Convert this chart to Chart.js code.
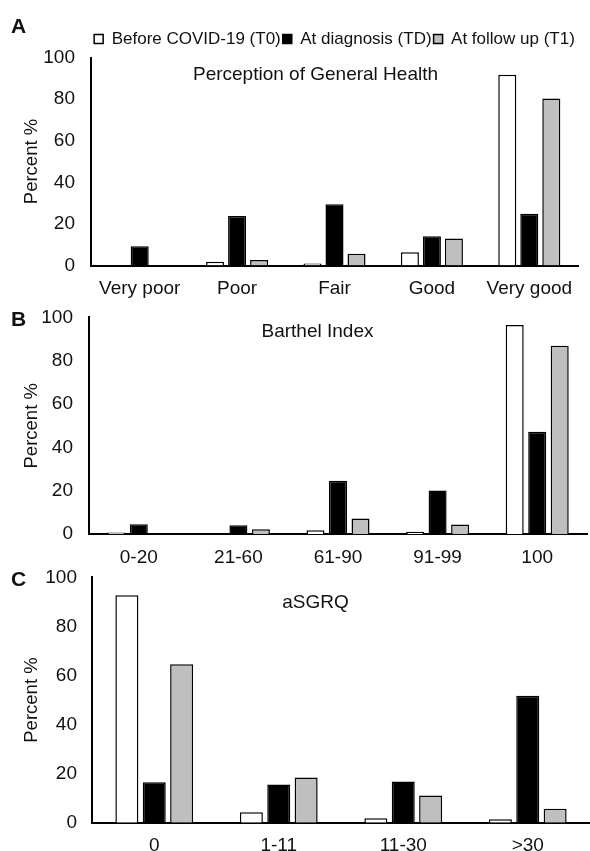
<!DOCTYPE html>
<html>
<head>
    <title>Perception of health, Barthel Index and aSGRQ</title>
    <script src="https://cdn.jsdelivr.net/npm/chart.js@4.4.0/dist/chart.umd.min.js"></script>
    <style>
        body {
            margin: 0;
            background: white;
            font-family: 'Liberation Sans', Arial, sans-serif;
        }
        .page {
            position: relative;
            width: 590px;
            height: 851px;
            overflow: hidden;
        }
        .panel {
            position: absolute;
            left: 0;
            width: 590px;
        }
        .letter {
            position: absolute;
            left: 11px;
            font-size: 21px;
            font-weight: bold;
            color: #111;
            line-height: 21px;
        }
    </style>
</head>
<body>
    <div class="page">
        <div class="panel" style="top:0;height:300px"><canvas id="chartA"></canvas></div>
        <div class="panel" style="top:290px;height:280px"><canvas id="chartB"></canvas></div>
        <div class="panel" style="top:551px;height:300px"><canvas id="chartC"></canvas></div>
        <div class="letter" style="top:15px">A</div>
        <div class="letter" style="top:308px">B</div>
        <div class="letter" style="top:568px">C</div>
    </div>

    <script>
        // series names
        const seriesNames = ['Before COVID-19 (T0)', 'At diagnosis (TD)', 'At follow up (T1)'];

        // A - Perception of General Health
        const healthLabels = ['Very poor', 'Poor', 'Fair', 'Good', 'Very good'];
        const healthT0 = [0, 1.8, 1.0, 6.4, 91.7];
        const healthTD = [9.3, 23.8, 29.4, 14.1, 24.9];
        const healthT1 = [0, 2.6, 5.6, 13.0, 80.3];

        // B - Barthel Index
        const barthelLabels = ['0-20', '21-60', '61-90', '91-99', '100'];
        const barthelT0 = [0.8, 0, 1.8, 1.1, 96.5];
        const barthelTD = [4.6, 4.1, 24.6, 20.1, 47.3];
        const barthelT1 = [0, 2.3, 7.2, 4.5, 86.9];

        // C - aSGRQ
        const sgrqLabels = ['0', '1-11', '11-30', '>30'];
        const sgrqT0 = [92.7, 4.3, 1.8, 1.4];
        const sgrqTD = [16.5, 15.6, 16.8, 51.8];
        const sgrqT1 = [64.6, 18.4, 11.1, 5.7];

        const yTicks = [0, 20, 40, 60, 80, 100];

        const fillColors = ['#ffffff', '#000000', '#bfbfbf'];
        const textColor = '#111';
        const fontFamily = "'Liberation Sans', Arial, sans-serif";

        // draws the small title inside the plot area
        const panelTitle = {
            id: 'panelTitle',
            afterDraw(chart, args, opts) {
                const ctx = chart.ctx;
                ctx.save();
                ctx.font = '19px ' + fontFamily;
                ctx.fillStyle = textColor;
                ctx.textAlign = 'center';
                ctx.textBaseline = 'middle';
                ctx.fillText(opts.text, opts.x, opts.y);
                ctx.restore();
            }
        };

        function makeChart(id, cfg) {
            const datasets = [cfg.t0, cfg.td, cfg.t1].map((vals, i) => ({
                label: seriesNames[i],
                data: vals,
                backgroundColor: fillColors[i],
                borderColor: '#000',
                borderWidth: 1.5,
                categoryPercentage: cfg.catPct,
                barPercentage: cfg.barPct
            }));

            return new Chart(document.getElementById(id), {
                type: 'bar',
                data: { labels: cfg.labels, datasets: datasets },
                plugins: [panelTitle],
                options: {
                    responsive: true,
                    maintainAspectRatio: false,
                    animation: false,
                    layout: {
                        padding: { top: cfg.padTop, right: cfg.padRight, left: 0, bottom: 0 }
                    },
                    plugins: {
                        tooltip: { enabled: false },
                        legend: {
                            display: cfg.legend,
                            position: 'top',
                            fullSize: false,
                            labels: {
                                boxWidth: 9,
                                boxHeight: 9,
                                padding: 2,
                                color: textColor,
                                font: { family: fontFamily, size: 17 }
                            }
                        },
                        panelTitle: cfg.title
                    },
                    scales: {
                        x: {
                            grid: { display: false, drawTicks: false },
                            border: { display: true, color: '#000', width: 2 },
                            ticks: {
                                color: textColor,
                                font: { family: fontFamily, size: 19 },
                                padding: 12,
                                maxRotation: 0,
                                autoSkip: false
                            },
                            afterFit: (s) => { s.height = cfg.xHeight; }
                        },
                        y: {
                            min: 0,
                            max: 100,
                            afterBuildTicks: (s) => { s.ticks = yTicks.map(v => ({ value: v })); },
                            grid: { display: false, drawTicks: false },
                            border: { display: true, color: '#000', width: 2 },
                            ticks: {
                                color: textColor,
                                font: { family: fontFamily, size: 19 },
                                padding: cfg.yPad
                            },
                            title: {
                                display: true,
                                text: 'Percent %',
                                color: textColor,
                                font: { family: fontFamily, size: 18.5 },
                                padding: { top: 21, bottom: 0 }
                            },
                            afterFit: (s) => { s.width = cfg.yWidth; }
                        }
                    }
                }
            });
        }

        makeChart('chartA', {
            labels: healthLabels, t0: healthT0, td: healthTD, t1: healthT1,
            legend: true, padTop: 28.5, padRight: 12, xHeight: 34.5, yWidth: 91, yPad: 16,
            catPct: 0.678, barPct: 0.82,
            title: { text: 'Perception of General Health', x: 315.5, y: 75 }
        });

        makeChart('chartB', {
            labels: barthelLabels, t0: barthelT0, td: barthelTD, t1: barthelT1,
            legend: false, padTop: 0, padRight: 3, xHeight: 35.8, yWidth: 89, yPad: 16,
            catPct: 0.678, barPct: 0.8,
            title: { text: 'Barthel Index', x: 317.5, y: 41.7 }
        });

        makeChart('chartC', {
            labels: sgrqLabels, t0: sgrqT0, td: sgrqTD, t1: sgrqT1,
            legend: false, padTop: 0, padRight: 0, xHeight: 28.3, yWidth: 92, yPad: 15,
            catPct: 0.66, barPct: 0.84,
            title: { text: 'aSGRQ', x: 315.5, y: 52 }
        });
    </script>
</body>
</html>
